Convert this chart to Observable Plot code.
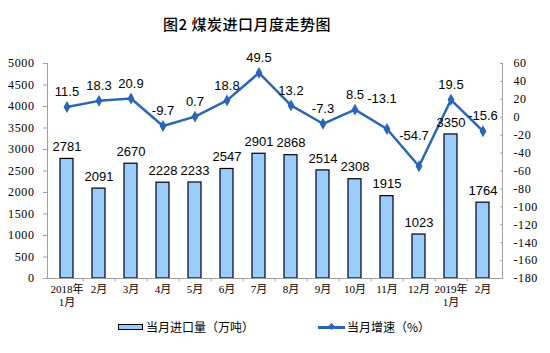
<!DOCTYPE html>
<html><head><meta charset="utf-8">
<script src="https://cdn.jsdelivr.net/npm/d3@7"></script>
<script src="https://cdn.jsdelivr.net/npm/@observablehq/plot@0.6"></script>
<style>
body{margin:0;background:#fff;}
#wrap{position:relative;width:550px;height:353px;overflow:hidden;font-family:"Noto Sans CJK SC",sans-serif;color:#000;}
#chart{position:absolute;left:0;top:0;}
#title{position:absolute;left:0;width:494px;top:13px;text-align:center;font-size:15px;line-height:22px;letter-spacing:0.5px;white-space:nowrap;font-weight:500;}
.lg{position:absolute;top:319px;font-size:12px;line-height:16px;white-space:nowrap;}
.sw-bar{position:absolute;left:118px;top:324px;width:23px;height:4px;background:#99ccff;border:1.5px solid #000;}
.sw-line{position:absolute;left:318px;top:326px;width:27px;height:2.5px;background:#2a66b8;}
.sw-dot{position:absolute;left:328.5px;top:324px;width:5px;height:5px;background:#2a66b8;transform:rotate(45deg);}
g[aria-label="y-axis tick label"] text{letter-spacing:0.6px;}
</style></head><body>
<div id="wrap">
<div id="chart"></div>
<div id="title">图2 煤炭进口月度走势图</div>
<div class="sw-bar"></div><div class="lg" style="left:146px">当月进口量（万吨）</div>
<div class="sw-line"></div><div class="sw-dot"></div><div class="lg" style="left:347px">当月增速（%）</div>
</div>
<script>
const monthLabels = ["2018年\n1月","2月","3月","4月","5月","6月","7月","8月","9月","10月","11月","12月","2019年\n1月","2月"];
const imports = [2781,2091,2670,2228,2233,2547,2901,2868,2514,2308,1915,1023,3350,1764];
const growth = [11.5,18.3,20.9,-9.7,0.7,18.8,49.5,13.2,-7.3,8.5,-13.1,-54.7,19.5,-15.6];
const leftTicks = d3.range(0, 5001, 500);
const rightTicks = d3.range(60, -181, -20);
const rightDomain = [-180, 60];
const leftDomain = [0, 5000];

const toLeft = g => (g - rightDomain[0]) / (rightDomain[1] - rightDomain[0]) * (leftDomain[1] - leftDomain[0]) + leftDomain[0];
const fromLeft = v => Math.round((v - leftDomain[0]) / (leftDomain[1] - leftDomain[0]) * (rightDomain[1] - rightDomain[0]) + rightDomain[0]);

const table = imports.map((v, i) => ({i, v, g: growth[i], gy: toLeft(growth[i])}));
const raised = new Set([10, 11]);

const W = 550, H = 353, ML = 47, MR = 48, MT = 63, MB = 75;
const step = (W - ML - MR) / monthLabels.length;
const serif = "'Liberation Serif','Noto Sans CJK SC',serif";
const sans = "'Liberation Sans',Arial,sans-serif";
const blue = "#2a66b8";
const axisGray = "#a0a0a0";

const chart = Plot.plot({
  width: W, height: H,
  marginTop: MT, marginBottom: MB, marginLeft: ML, marginRight: MR,
  style: {background: "transparent", color: "#000"},
  x: {type: "band", domain: d3.range(monthLabels.length), paddingInner: 0.59, paddingOuter: 0.295},
  y: {domain: leftDomain},
  marks: [
    Plot.barY(table, {x: "i", y: "v", fill: "#99ccff", stroke: "#000", strokeWidth: 1.2}),
    Plot.frame({anchor: "left", stroke: axisGray}),
    Plot.frame({anchor: "right", stroke: axisGray}),
    Plot.frame({anchor: "bottom", stroke: axisGray}),
    Plot.ruleX(d3.range(monthLabels.length - 1), {x: d => d, y1: 0, y2: -80, dx: step / 2, stroke: axisGray}),
    Plot.axisY(leftTicks, {anchor: "left", tickSize: 4, tickPadding: 9, stroke: axisGray, fill: "#000", fontSize: 12, fontFamily: serif, label: null, tickFormat: d => String(d)}),
    Plot.axisY(rightTicks.map(toLeft), {anchor: "right", tickSize: -3, tickPadding: 14, stroke: axisGray, fill: "#000", fontSize: 12, fontFamily: serif, label: null, tickFormat: v => String(fromLeft(v))}),
    Plot.axisX({tickSize: 0, tickPadding: 6, fontSize: 11, fontFamily: serif, fill: "#000", label: null, tickFormat: i => monthLabels[i], lineHeight: 1.15}),
    Plot.line(table, {x: "i", y: "gy", stroke: blue, strokeWidth: 2.5}),
    Plot.dot(table, {x: "i", y: "gy", symbol: "diamond", r: 3.6, fill: blue, stroke: "none"}),
    Plot.text(table, {x: "i", y: "v", text: d => String(d.v), dy: -12, fontSize: 13, fontFamily: sans, fill: "#000"}),
    Plot.text(table.filter(d => !raised.has(d.i)), {x: "i", y: "gy", text: d => String(d.g), dy: -15, fontSize: 13, fontFamily: sans, fill: "#000"}),
    Plot.text(table.filter(d => raised.has(d.i)), {x: "i", y: "gy", text: d => String(d.g), dy: -30, dx: -5, fontSize: 13, fontFamily: sans, fill: "#000"})
  ]
});
document.getElementById("chart").appendChild(chart);
</script>
</body></html>
